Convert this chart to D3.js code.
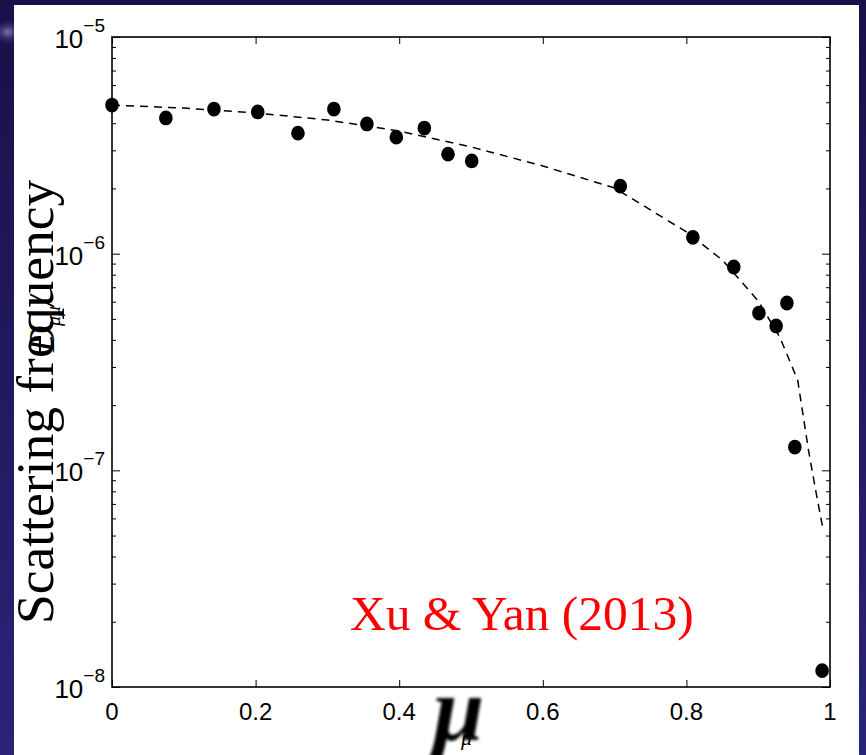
<!DOCTYPE html>
<html><head><meta charset="utf-8">
<script src="https://cdn.jsdelivr.net/npm/d3@7"></script>
<style>body{margin:0;background:#1b1350;}svg{display:block;}</style>
</head><body>
<script>
// ---- data ----
const muData = [0, 0.075, 0.142, 0.203, 0.259, 0.309, 0.355, 0.396, 0.435, 0.468, 0.501, 0.708, 0.809, 0.866, 0.901, 0.925, 0.940, 0.951, 0.989];
const freqData = [4.85e-6, 4.23e-6, 4.65e-6, 4.51e-6, 3.60e-6, 4.65e-6, 3.97e-6, 3.45e-6, 3.80e-6, 2.88e-6, 2.68e-6, 2.05e-6, 1.19e-6, 8.68e-7, 5.32e-7, 4.64e-7, 5.92e-7, 1.28e-7, 1.19e-8];
const fitMu = [0, 0.1, 0.2, 0.3, 0.4, 0.5, 0.6, 0.7, 0.8, 0.85, 0.9, 0.93, 0.955, 0.97, 0.98, 0.99];
const fitFreq = [4.85e-6, 4.70e-6, 4.46e-6, 4.14e-6, 3.68e-6, 3.11e-6, 2.54e-6, 2.01e-6, 1.26e-6, 9.35e-7, 6.05e-7, 4.12e-7, 2.61e-7, 1.24e-7, 8.1e-8, 5.4e-8];
const xTicks = [0, 0.2, 0.4, 0.6, 0.8, 1];
const xTickLabels = ["0", "0.2", "0.4", "0.6", "0.8", "1"];
const yDecades = [1e-5, 1e-6, 1e-7, 1e-8];
const yExponents = ["−5", "−6", "−7", "−8"];
const yLabel = "Scattering frequency";
const annotation = "Xu & Yan (2013)";

const W = 866, H = 755;
const svg = d3.select("body").append("svg").attr("width", W).attr("height", H);
const defs = svg.append("defs");
const bg = defs.append("linearGradient").attr("id","bg").attr("x1",0).attr("y1",0).attr("x2",0).attr("y2",1);
bg.append("stop").attr("offset","0%").attr("stop-color","#1a1048");
bg.append("stop").attr("offset","100%").attr("stop-color","#2a2478");
const glow = defs.append("radialGradient").attr("id","glow");
glow.append("stop").attr("offset","0%").attr("stop-color","#8a80c0").attr("stop-opacity",0.9);
glow.append("stop").attr("offset","100%").attr("stop-color","#1a1048").attr("stop-opacity",0);
defs.append("filter").attr("id","blur").append("feGaussianBlur").attr("stdDeviation",1.6);

svg.append("rect").attr("width",W).attr("height",H).attr("fill","url(#bg)");
svg.append("ellipse").attr("cx",8).attr("cy",32).attr("rx",18).attr("ry",14).attr("fill","url(#glow)");
svg.append("rect").attr("x",14).attr("y",5).attr("width",845).attr("height",H-5).attr("fill","#fff");

const L = 112, R = 830, T = 37, B = 687;
const x = d3.scaleLinear().domain([0,1]).range([L,R]);
const y = d3.scaleLog().domain([1e-8,1e-5]).range([B,T]);

// minor / major tick values
const minorY = [];
for (let e = -8; e < -5; e++) for (let m = 2; m <= 9; m++) minorY.push(m*Math.pow(10,e));

const g = svg.append("g");
g.append("g").attr("transform",`translate(0,${B})`)
  .call(d3.axisBottom(x).tickValues(xTicks).tickSize(-7).tickFormat(""))
  .call(s=>s.select(".domain").remove());
g.append("g").attr("transform",`translate(0,${T})`)
  .call(d3.axisTop(x).tickValues(xTicks).tickSize(-7).tickFormat(""))
  .call(s=>s.select(".domain").remove());
g.append("g").attr("transform",`translate(${L},0)`)
  .call(d3.axisLeft(y).tickValues(minorY).tickSize(-4).tickFormat(""))
  .call(s=>s.select(".domain").remove());
g.append("g").attr("transform",`translate(${L},0)`)
  .call(d3.axisLeft(y).tickValues(yDecades).tickSize(-8).tickFormat(""))
  .call(s=>s.select(".domain").remove());
g.append("g").attr("transform",`translate(${R},0)`)
  .call(d3.axisRight(y).tickValues(minorY).tickSize(-4).tickFormat(""))
  .call(s=>s.select(".domain").remove());
g.append("g").attr("transform",`translate(${R},0)`)
  .call(d3.axisRight(y).tickValues(yDecades).tickSize(-8).tickFormat(""))
  .call(s=>s.select(".domain").remove());
g.selectAll(".tick line").attr("stroke","#000").attr("stroke-width",1);

// frame
svg.append("rect").attr("x",L).attr("y",T).attr("width",R-L).attr("height",B-T)
  .attr("fill","none").attr("stroke","#000").attr("stroke-width",1.6);

// tick labels
svg.append("g").selectAll("text").data(xTicks).join("text")
  .attr("x",d=>x(d)).attr("y",B+33).attr("text-anchor","middle")
  .attr("font-family","Liberation Sans, Arial, sans-serif").attr("font-size",24)
  .text((d,i)=>xTickLabels[i]);
const yl = svg.append("g").selectAll("text").data(yDecades).join("text")
  .attr("x",L-7).attr("y",d=>y(d)+11).attr("text-anchor","end")
  .attr("font-family","Liberation Sans, Arial, sans-serif");
yl.append("tspan").attr("font-size",26).text("10");
yl.append("tspan").attr("font-size",19).attr("dy",-16).text((d,i)=>yExponents[i]);

// fit line
svg.append("path").datum(fitMu.map((m,i)=>[m,fitFreq[i]]))
  .attr("d", d3.line().x(d=>x(d[0])).y(d=>y(d[1])))
  .attr("fill","none").attr("stroke","#000").attr("stroke-width",1.5).attr("stroke-dasharray","8,6");

// points
svg.append("g").selectAll("ellipse").data(muData.map((m,i)=>[m,freqData[i]])).join("ellipse")
  .attr("cx",d=>x(d[0])).attr("cy",d=>y(d[1])).attr("rx",6.8).attr("ry",7.4).attr("fill","#000");

// annotation
svg.append("text").attr("x",350).attr("y",630)
  .attr("font-family","Liberation Serif, Times New Roman, serif").attr("font-size",49.5)
  .attr("fill","#ff0000").text(annotation);

// y label
svg.append("text").attr("transform","translate(53,624) rotate(-90)")
  .attr("font-family","Liberation Serif, Times New Roman, serif").attr("font-size",53.5)
  .attr("fill","#000").text(yLabel);
const ov = svg.append("text").attr("transform","translate(54,352) rotate(-90)")
  .attr("font-family","Liberation Serif, Times New Roman, serif").attr("font-style","italic")
  .attr("fill","#000");
ov.append("tspan").attr("font-size",36).text("D");
ov.append("tspan").attr("font-size",20).attr("dy",6).text("μμ");
ov.append("tspan").attr("font-size",36).attr("dy",-6).text("/");

// x label (blurry mu)
svg.append("text").attr("x",433).attr("y",740)
  .attr("font-family","Liberation Serif, Times New Roman, serif").attr("font-style","italic")
  .attr("font-weight","bold").attr("font-size",92).attr("filter","url(#blur)").text("μ");
svg.append("text").attr("x",461).attr("y",745)
  .attr("font-family","Liberation Serif, Times New Roman, serif").attr("font-style","italic")
  .attr("font-size",22).text("μ");
</script>
</body></html>
